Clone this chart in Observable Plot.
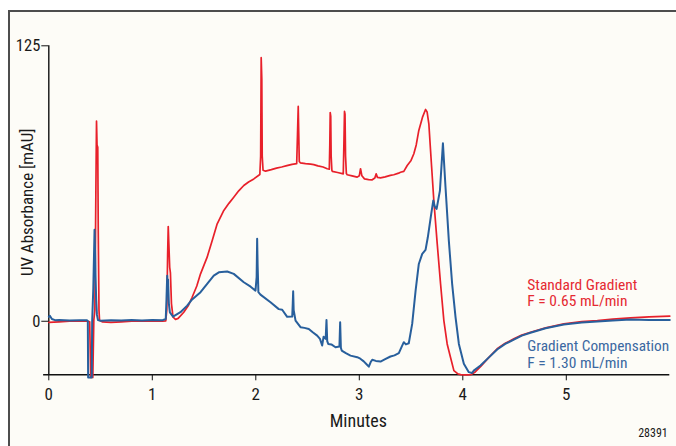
<!DOCTYPE html>
<html>
<head>
<meta charset="utf-8">
<script src="https://cdn.jsdelivr.net/npm/d3@7"></script>
<script src="https://cdn.jsdelivr.net/npm/@observablehq/plot@0.6"></script>
<style>
  html, body { margin: 0; padding: 0; background: #ffffff; }
  #wrap { position: relative; width: 676px; height: 446px; overflow: hidden; }
  #frame { position: absolute; left: 8px; top: 10px; width: 900px; height: 700px;
           border-left: 2px solid #4d4d4d; border-top: 2px solid #4d4d4d; background: #fdfcf7; }
  #chart { position: absolute; left: 0; top: 0; }
  #chart svg { display: block; }
</style>
</head>
<body>
<div id="wrap"><div id="frame"></div><div id="chart"></div></div>
<script>
// ---- data ----
const seriesNames = ["Standard Gradient", "Gradient Compensation"];
const seriesFlows = ["F = 0.65 mL/min", "F = 1.30 mL/min"];
const xTicks = [0, 1, 2, 3, 4, 5];
const yTicks = [0, 125];
const xLabel = "Minutes";
const yLabel = "UV Absorbance [mAU]";
const figureId = "28391";

const redT = [0.00,0.10,0.20,0.30,0.38,0.395,0.405,0.425,0.435,0.445,0.455,0.461,0.466,0.473,0.478,0.485,0.49,0.52,0.6,0.7,0.8,0.9,1.0,1.1,1.13,1.14,1.148,1.154,1.16,1.168,1.175,1.185,1.2,1.224,1.25,1.304,1.35,1.385,1.43,1.466,1.53,1.579,1.627,1.691,1.74,1.787,1.835,1.884,1.93,1.981,2.039,2.047,2.052,2.058,2.062,2.07,2.094,2.15,2.2,2.25,2.30,2.35,2.395,2.403,2.41,2.415,2.42,2.43,2.48,2.53,2.56,2.60,2.65,2.69,2.71,2.715,2.719,2.724,2.728,2.735,2.74,2.79,2.845,2.851,2.857,2.862,2.867,2.875,2.883,2.93,2.98,3.0,3.012,3.025,3.05,3.09,3.125,3.15,3.163,3.175,3.205,3.25,3.3,3.333,3.38,3.398,3.43,3.463,3.50,3.527,3.55,3.575,3.61,3.64,3.655,3.672,3.685,3.699,3.72,3.753,3.785,3.817,3.849,3.881,3.914,3.95,3.979,4.03,4.08,4.12,4.171,4.25,4.332,4.41,4.493,4.57,4.654,4.8,4.976,5.15,5.3,5.45,5.62,5.8,6.0];
const redV = [-0.5,-0.3,0.0,0.0,0.0,-0.2,-25.5,-25.5,0.5,5,60,90.8,80,79,40,5,0.5,-0.3,-0.5,-0.3,0,0,0,0,0.2,5,30,43,35,24.5,22,8,2,0.8,1.3,4.1,7.3,10.9,16,21.5,29.1,36.6,44.2,50.3,53.5,56.3,59.2,61.6,63.2,64.6,66.6,75,119.6,110,75,68.5,68.1,68.8,69.5,70,70.6,71.2,71.5,85,97.5,85,72.5,71.9,71.5,71.3,71.1,70.5,70,69.2,69,80,94.7,93,75,68.5,68,67.5,66.9,80,95.2,94,75,67,66.5,66,65.4,66,69.2,66,64.6,64.3,64.2,65,66.9,65.3,65.1,65.5,66.2,66.5,67.2,67.6,68,70.7,73,76,80,86.6,92.5,96.1,95,89.6,80,69.9,54.8,35.1,17,0.3,-10.3,-16.3,-22.4,-23.8,-24.2,-24.3,-24.2,-23,-20.6,-16.5,-12.5,-10,-8,-6.3,-5,-3,-1.2,-0.2,0.3,1,1.5,2,2.3];

const blueT = [0.00,0.01,0.03,0.06,0.1,0.2,0.3,0.37,0.377,0.38,0.415,0.419,0.43,0.442,0.448,0.452,0.458,0.465,0.475,0.5,0.6,0.7,0.8,0.9,1.0,1.1,1.13,1.137,1.144,1.148,1.152,1.16,1.17,1.2,1.272,1.337,1.385,1.466,1.53,1.594,1.643,1.724,1.787,1.884,1.95,1.997,2.008,2.013,2.018,2.025,2.045,2.142,2.222,2.255,2.303,2.352,2.357,2.361,2.366,2.384,2.432,2.47,2.512,2.55,2.593,2.62,2.641,2.655,2.675,2.683,2.69,2.7,2.73,2.77,2.808,2.815,2.822,2.83,2.87,2.915,2.98,3.01,3.043,3.07,3.092,3.11,3.125,3.16,3.205,3.25,3.301,3.34,3.382,3.41,3.43,3.45,3.478,3.511,3.544,3.575,3.608,3.64,3.662,3.695,3.715,3.73,3.747,3.779,3.808,3.833,3.865,3.897,3.93,3.962,4.01,4.058,4.09,4.106,4.171,4.25,4.332,4.41,4.493,4.57,4.654,4.8,4.976,5.15,5.3,5.45,5.62,5.8,6.0];
const blueV = [2.0,2.5,1,0.5,0.6,0.3,0.5,0.4,0,-25.5,-25.5,0,15,41.5,30,20,10,3,0.5,0.2,0.5,0.3,0.6,0.3,0.6,0.5,1,10,20.7,15,19,8,4,2.1,4.1,7.1,9.9,13.2,17,20.7,22.2,22.6,21.5,17.7,15.7,13.9,20,37.4,25,13.2,12.1,8.6,5.5,5.2,2,2.1,8,13.6,5,0.3,-2.7,-3,-3.5,-5,-6.5,-8,-11,-7,-8,0.6,-9,-10.3,-10.5,-11.8,-11.5,-0.5,-12,-13.3,-14.5,-15.6,-16.3,-17,-18.2,-19.5,-20.6,-18.5,-17.5,-18,-18.3,-17.2,-16,-15.5,-14.5,-11.5,-9.5,-10.5,-10,-1.2,13.9,26,30.6,32.4,38.1,48.7,54.8,52,51,59.3,80.8,60.8,36.6,17,1.8,-10.3,-19.3,-23.1,-23.5,-22.4,-20.1,-16.5,-12.8,-10.3,-8.3,-6.5,-5.2,-3.2,-1.5,-0.6,-0.1,0.3,0.8,0.6,0.6];

// ---- build tables ----
const red = redT.map((t, i) => ({t, v: redV[i]}));
const blue = blueT.map((t, i) => ({t, v: blueV[i]}));
const yMin = -24.3, yMax = 125, xMax = 6;

const font = "'Liberation Sans Narrow', 'Arial Narrow', 'Roboto Condensed', Roboto, 'Liberation Sans', sans-serif";
const redColor = "#e8202a", blueColor = "#285f9c";

const chart = Plot.plot({
  width: 676, height: 446,
  marginLeft: 48.3, marginRight: 6.7, marginTop: 45.3, marginBottom: 71.7,
  x: {domain: [0, xMax]},
  y: {domain: [yMin, yMax]},
  style: {background: "transparent", fontFamily: font, color: "#1a1a1a"},
  marks: [
    Plot.axisX({ticks: xTicks, tickFormat: d => String(d), tickSize: 6, tickPadding: 7, fontSize: 17, label: null, stroke: "#111"}),
    Plot.axisY({ticks: yTicks, tickFormat: d => String(d), tickSize: 7, tickPadding: 1.5, fontSize: 16.5, label: null, stroke: "#111"}),
    Plot.ruleX([0], {y1: yMin, y2: yMax, stroke: "#111", strokeWidth: 1.4}),
    Plot.ruleY([yMin], {x1: -0.05, x2: xMax, stroke: "#111", strokeWidth: 1.4}),
    Plot.line(red, {x: "t", y: "v", stroke: redColor, strokeWidth: 1.7, curve: "linear"}),
    Plot.line(blue, {x: "t", y: "v", stroke: blueColor, strokeWidth: 2, curve: "linear"}),
    Plot.text([seriesNames[0]], {frameAnchor: "top-left", dx: 478.5, dy: 243.7,
      textAnchor: "start", lineAnchor: "bottom", fontSize: 15.5, fill: "#e52a32"}),
    Plot.text([seriesFlows[0]], {frameAnchor: "top-left", dx: 478.5, dy: 260,
      textAnchor: "start", lineAnchor: "bottom", fontSize: 15.5, fill: "#e52a32"}),
    Plot.text([seriesNames[1]], {frameAnchor: "top-left", dx: 478.5, dy: 305,
      textAnchor: "start", lineAnchor: "bottom", fontSize: 15.3, fill: "#3b68a1"}),
    Plot.text([seriesFlows[1]], {frameAnchor: "top-left", dx: 478.5, dy: 322,
      textAnchor: "start", lineAnchor: "bottom", fontSize: 15.5, fill: "#3b68a1"}),
    Plot.text([xLabel], {frameAnchor: "bottom", dx: -1, dy: 52.4, textAnchor: "middle", lineAnchor: "bottom", fontSize: 18, fill: "#1a1a1a"}),
    Plot.text([yLabel], {frameAnchor: "left", dx: -20.8, dy: -8, rotate: -90, textAnchor: "middle", lineAnchor: "middle", fontSize: 17, fill: "#1a1a1a"}),
    Plot.text([figureId], {frameAnchor: "bottom-right", dx: -2, dy: 62.4, textAnchor: "end", lineAnchor: "bottom", fontSize: 12, fill: "#1a1a1a"})
  ]
});
document.getElementById("chart").appendChild(chart);
</script>
</body>
</html>
